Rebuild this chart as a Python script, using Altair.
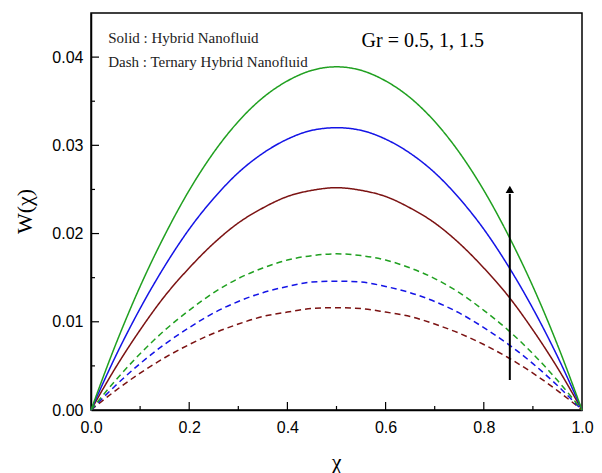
import altair as alt
import pandas as pd

# x positions (chi) at which values were read
chi = [0.0, 0.05, 0.10, 0.15, 0.20, 0.25, 0.30, 0.35, 0.40, 0.45, 0.50,
       0.55, 0.60, 0.65, 0.70, 0.75, 0.80, 0.85, 0.90, 0.95, 1.0]

# Solid: Hybrid nanofluid, Gr = 0.5, 1, 1.5
hyb_gr05 = [0.0, 0.00479, 0.00907, 0.0129, 0.0161, 0.0189, 0.0212, 0.0229, 0.0242, 0.0249, 0.0252,
            0.0249, 0.0242, 0.0229, 0.0212, 0.0189, 0.0161, 0.0129, 0.00907, 0.00479, 0.0]
hyb_gr10 = [0.0, 0.00608, 0.0115, 0.0163, 0.0205, 0.0240, 0.0269, 0.0291, 0.0307, 0.0317, 0.0320,
            0.0317, 0.0307, 0.0291, 0.0269, 0.0240, 0.0205, 0.0163, 0.0115, 0.00608, 0.0]
hyb_gr15 = [0.0, 0.00739, 0.0140, 0.0198, 0.0249, 0.0292, 0.0327, 0.0354, 0.0373, 0.0385, 0.0389,
            0.0385, 0.0373, 0.0354, 0.0327, 0.0292, 0.0249, 0.0198, 0.0140, 0.00739, 0.0]
# Dash: Ternary hybrid nanofluid, Gr = 0.5, 1, 1.5
ter_gr05 = [0.0, 0.00220, 0.00418, 0.00592, 0.00742, 0.00870, 0.00974, 0.0106, 0.0111, 0.0115, 0.0116,
            0.0115, 0.0111, 0.0106, 0.00974, 0.00870, 0.00742, 0.00592, 0.00418, 0.00220, 0.0]
ter_gr10 = [0.0, 0.00277, 0.00526, 0.00745, 0.00934, 0.0110, 0.0123, 0.0133, 0.0140, 0.0145, 0.0146,
            0.0145, 0.0140, 0.0133, 0.0123, 0.0110, 0.00934, 0.00745, 0.00526, 0.00277, 0.0]
ter_gr15 = [0.0, 0.00336, 0.00637, 0.00903, 0.0113, 0.0133, 0.0149, 0.0161, 0.0170, 0.0175, 0.0177,
            0.0175, 0.0170, 0.0161, 0.0149, 0.0133, 0.0113, 0.00903, 0.00637, 0.00336, 0.0]

x_ticks_major = [0.0, 0.2, 0.4, 0.6, 0.8, 1.0]
x_ticks_minor = [0.1, 0.3, 0.5, 0.7, 0.9]
y_ticks_major = [0.0, 0.01, 0.02, 0.03, 0.04]
y_ticks_minor = [0.005, 0.015, 0.025, 0.035]

x_title = "χ"
y_title = "W(χ)"

rows = []
for name, fluid, gr, vals in [
    ("h05", "solid", "0.5", hyb_gr05), ("h10", "solid", "1", hyb_gr10), ("h15", "solid", "1.5", hyb_gr15),
    ("t05", "dash", "0.5", ter_gr05), ("t10", "dash", "1", ter_gr10), ("t15", "dash", "1.5", ter_gr15),
]:
    for xv, yv in zip(chi, vals):
        rows.append({"series": name, "fluid": fluid, "Gr": gr, "x": xv, "y": yv})
df = pd.DataFrame(rows)

xs = alt.Scale(domain=[0, 1], nice=False, zero=False)
ys = alt.Scale(domain=[0, 0.045], nice=False, zero=False)
W = 491
H = 397
SERIF = "Liberation Serif"

lines = alt.Chart(df).mark_line(strokeWidth=1.5, interpolate="monotone").encode(
    x=alt.X("x:Q", scale=xs, axis=alt.Axis(
        values=x_ticks_major, format=".1f", ticks=False, labelPadding=9, labelFlush=False, title="")),
    y=alt.Y("y:Q", scale=ys, axis=alt.Axis(
        values=y_ticks_major, format=".2f", ticks=False, labelPadding=8, labelFlush=False, title="")),
    color=alt.Color("Gr:N", scale=alt.Scale(domain=["0.5", "1", "1.5"],
                                            range=["#7b1212", "#1414e6", "#20a020"]), legend=None),
    strokeDash=alt.StrokeDash("fluid:N", scale=alt.Scale(domain=["solid", "dash"],
                                                         range=[[1, 0], [6, 4]]), legend=None),
    detail="series:N",
)

xmaj = alt.Chart(pd.DataFrame({"t": x_ticks_major[1:-1]})).mark_rule(color="black", strokeWidth=1.2).encode(
    x=alt.X("t:Q", scale=xs), y=alt.value(H), y2=alt.value(H - 8))
xmin = alt.Chart(pd.DataFrame({"t": x_ticks_minor})).mark_rule(color="black", strokeWidth=1.2).encode(
    x=alt.X("t:Q", scale=xs), y=alt.value(H), y2=alt.value(H - 4))
ymaj = alt.Chart(pd.DataFrame({"t": y_ticks_major[1:]})).mark_rule(color="black", strokeWidth=1.2).encode(
    y=alt.Y("t:Q", scale=ys), x=alt.value(0), x2=alt.value(8))
ymin = alt.Chart(pd.DataFrame({"t": y_ticks_minor})).mark_rule(color="black", strokeWidth=1.2).encode(
    y=alt.Y("t:Q", scale=ys), x=alt.value(0), x2=alt.value(4))

# arrow showing increasing Gr
arrow_x = [0.853]
arrow_y0 = [0.0034]
arrow_y1 = [0.0245]
arrow_tip = [0.0250]
arrow_df = pd.DataFrame({"x": arrow_x, "y0": arrow_y0, "y1": arrow_y1, "tip": arrow_tip})
arrow_line = alt.Chart(arrow_df).mark_rule(color="black", strokeWidth=2).encode(
    x=alt.X("x:Q", scale=xs), y=alt.Y("y0:Q", scale=ys), y2="y1:Q")
arrow_head = alt.Chart(arrow_df).mark_point(shape="triangle-up", filled=True, color="black",
                                            size=70, opacity=1).encode(
    x=alt.X("x:Q", scale=xs), y=alt.Y("tip:Q", scale=ys))

notes_text = ["Solid : Hybrid Nanofluid", "Dash : Ternary Hybrid Nanofluid"]
notes_x = [0.035, 0.035]
notes_y = [0.0422, 0.0394]
notes = alt.Chart(pd.DataFrame({"t": notes_text, "x": notes_x, "y": notes_y})).mark_text(
    font=SERIF, fontSize=15, align="left", baseline="middle", color="#222222").encode(
    x=alt.X("x:Q", scale=xs), y=alt.Y("y:Q", scale=ys), text="t:N")

gr_label = alt.Chart(pd.DataFrame({"t": ["Gr = 0.5, 1, 1.5"], "x": [0.551], "y": [0.0418]})).mark_text(
    font=SERIF, fontSize=20, align="left", baseline="middle", color="black").encode(
    x=alt.X("x:Q", scale=xs), y=alt.Y("y:Q", scale=ys), text="t:N")

ytitle = alt.Chart(pd.DataFrame({"t": [y_title]})).mark_text(
    font=SERIF, fontSize=22, angle=270, align="center", baseline="middle", color="black").encode(
    x=alt.value(-66), y=alt.value(H / 2), text="t:N")
xtitle = alt.Chart(pd.DataFrame({"t": [x_title]})).mark_text(
    font=SERIF, fontSize=22, align="center", baseline="middle", color="black").encode(
    x=alt.value(W / 2), y=alt.value(H + 52), text="t:N")

chart = alt.layer(lines, xmaj, xmin, ymaj, ymin, arrow_line, arrow_head, notes, gr_label,
                  ytitle, xtitle).properties(
    width=W, height=H,
    autosize=alt.AutoSizeParams(type="none"),
    padding={"left": 91, "top": 13, "right": 20, "bottom": 63},
    background="white",
).configure_view(stroke="black", strokeWidth=1.5).configure_axis(
    grid=False, domainColor="black", domainWidth=1.5,
    labelFont="Liberation Sans", labelFontSize=16, labelColor="black",
)

chart.save("out.html", embed_options={"renderer": "svg", "actions": False})
